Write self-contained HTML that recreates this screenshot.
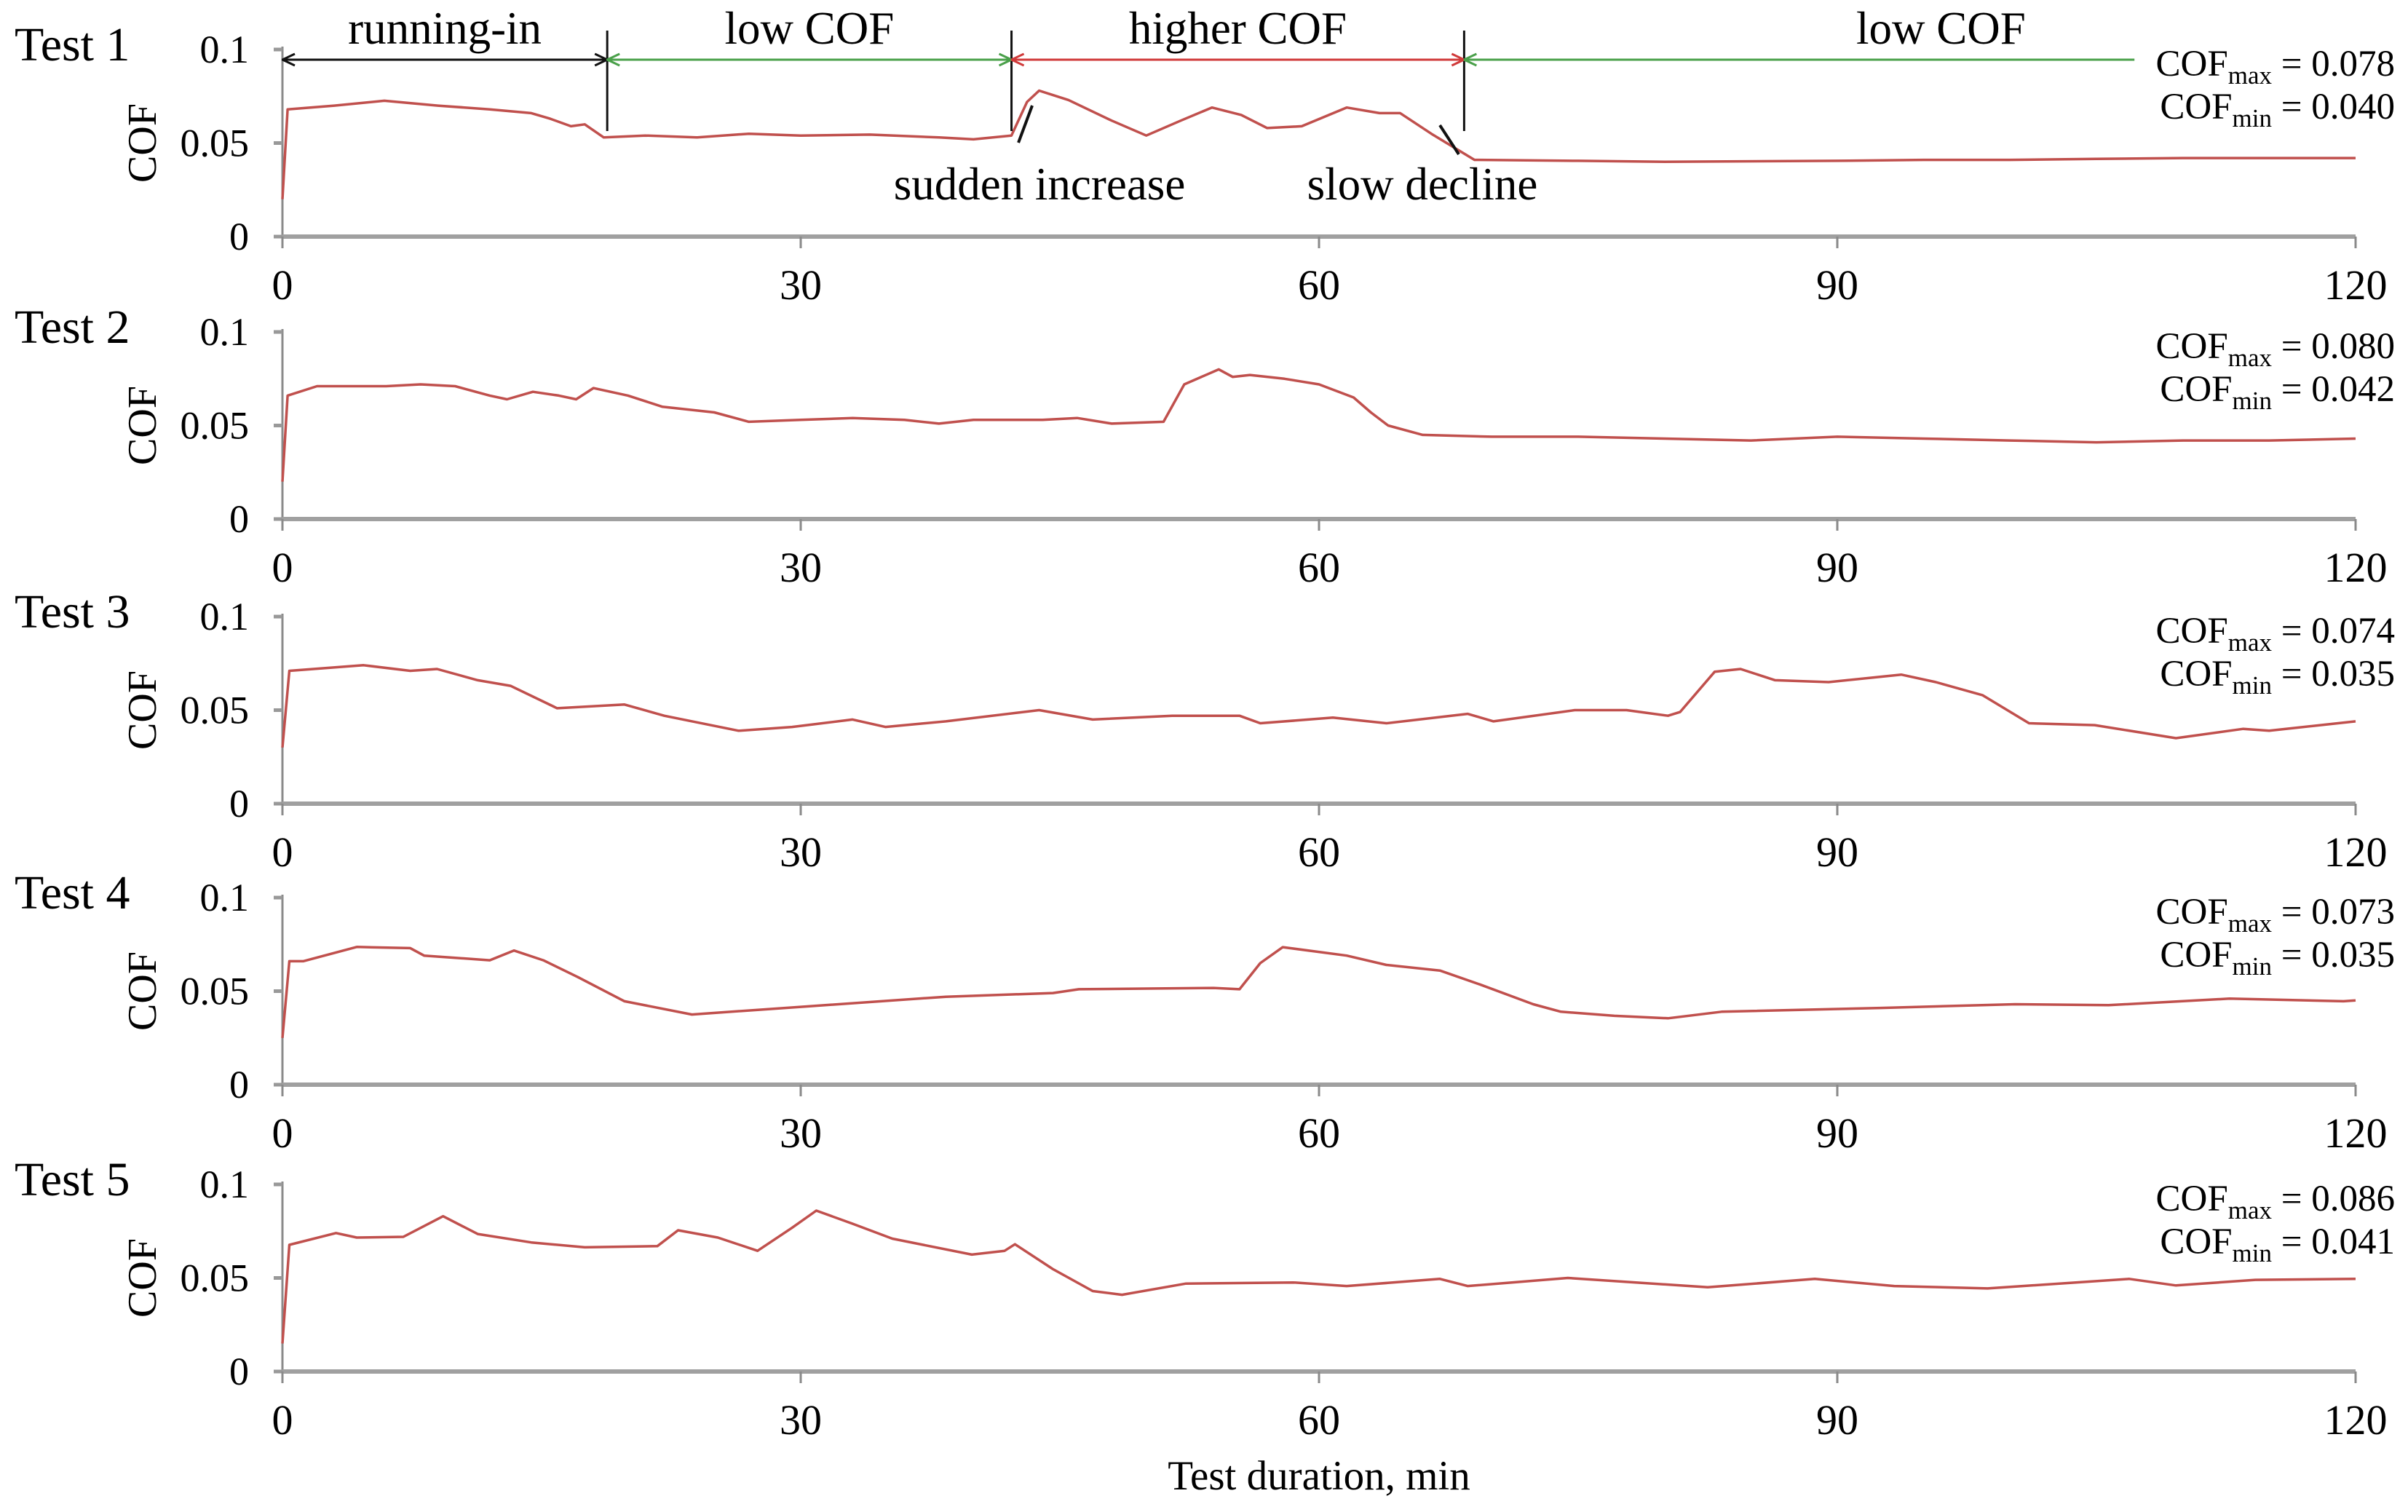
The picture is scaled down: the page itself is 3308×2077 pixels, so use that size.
<!DOCTYPE html>
<html><head><meta charset="utf-8"><style>
html,body{margin:0;padding:0;background:#fff;}
svg{display:block;font-family:"Liberation Serif",serif;}
</style></head><body>
<svg id="chart" width="3308" height="2077" viewBox="0 0 3308 2077" xmlns="http://www.w3.org/2000/svg">
<defs>
<marker id="ah" viewBox="0 0 20 20" refX="19" refY="10" markerWidth="20" markerHeight="20" markerUnits="userSpaceOnUse" orient="auto-start-reverse"><path d="M2,2 L19,10 L2,18" fill="none" stroke="context-stroke" stroke-width="3"/></marker>
</defs>
<g id="panels"></g>
<text x="1812" y="2046" font-size="57" text-anchor="middle">Test duration, min</text>
</svg>
<script>
const testNames = ["Test 1","Test 2","Test 3","Test 4","Test 5"];
const cofMax = ["0.078","0.080","0.074","0.073","0.086"];
const cofMin = ["0.040","0.042","0.035","0.035","0.041"];
const xTicks = [0,30,60,90,120];
const yTicks = [0,0.05,0.1];
const yTickLabels = ["0","0.05","0.1"];

const t1 = [0,0.3,3,5.9,9,12,14.4,15.5,16.7,17.5,18.6,21,24,27,30,34,38,40,42.2,43.1,43.8,45.5,48,50,52,53.8,55.5,57,59,61.6,63.5,64.7,66.5,69,75,80,90,95,100,105,110,115,120];
const v1 = [0.02,0.068,0.070,0.0726,0.070,0.068,0.066,0.063,0.059,0.060,0.053,0.054,0.053,0.055,0.054,0.0545,0.053,0.052,0.054,0.072,0.078,0.073,0.062,0.054,0.062,0.069,0.065,0.058,0.059,0.069,0.066,0.066,0.055,0.041,0.0405,0.040,0.0405,0.041,0.041,0.0415,0.042,0.042,0.042];
const t2 = [0,0.3,2,6,8,10,12,13,14.5,16,17,18,20,22,25,27,30,33,36,38,40,44,46,48,51,52.2,54.2,55,56,58,60,62,63,64,66,70,75,80,85,90,95,100,105,110,115,120];
const v2 = [0.02,0.066,0.071,0.071,0.072,0.071,0.066,0.064,0.068,0.066,0.064,0.070,0.066,0.060,0.057,0.052,0.053,0.054,0.053,0.051,0.053,0.053,0.054,0.051,0.052,0.072,0.080,0.076,0.077,0.075,0.072,0.065,0.057,0.050,0.045,0.044,0.044,0.043,0.042,0.044,0.043,0.042,0.041,0.042,0.042,0.043];
const t3 = [0,0.4,4.7,7.4,8.95,11.3,13.2,15.9,19.8,22.1,26.4,29.5,33,34.9,38.4,43.8,46.9,51.5,55.4,56.6,60.8,63.9,68.6,70.1,74.8,77.8,80.2,80.9,82.9,84.4,86.4,89.5,93.7,95.7,98.4,101.1,104.9,109.6,113.5,115,120];
const v3 = [0.03,0.071,0.074,0.071,0.072,0.066,0.063,0.051,0.053,0.047,0.039,0.041,0.045,0.041,0.044,0.050,0.045,0.047,0.047,0.043,0.046,0.043,0.048,0.044,0.050,0.050,0.047,0.049,0.0705,0.072,0.066,0.065,0.069,0.065,0.058,0.043,0.042,0.035,0.040,0.039,0.044];
const t4 = [0,0.4,1.2,4.3,7.4,8.2,12,13.4,15.1,17.1,19.8,23.7,30.6,38.4,44.6,46.1,53.9,55.4,56.6,57.9,61.6,63.9,67,69.3,72.4,74,77.1,80.2,83.3,92.5,100.3,105.7,112.7,119.3,120];
const v4 = [0.025,0.066,0.066,0.0736,0.073,0.069,0.0665,0.0717,0.0665,0.0575,0.0446,0.0375,0.042,0.047,0.049,0.051,0.0517,0.051,0.065,0.0735,0.069,0.064,0.061,0.0536,0.043,0.039,0.0368,0.0355,0.039,0.041,0.043,0.0425,0.046,0.0446,0.045];
const t5 = [0,0.4,3.1,4.3,7,9.3,11.3,14.4,17.5,21.7,22.9,25.2,27.5,29.5,30.9,33,35.3,39.9,41.8,42.4,44.6,46.9,48.6,52.3,58.5,61.6,67,68.6,74.4,82.5,88.7,93.3,98.7,106.9,109.6,114.2,120];
const v5 = [0.015,0.0677,0.074,0.0716,0.072,0.083,0.0735,0.069,0.0664,0.067,0.0755,0.0716,0.0645,0.0768,0.086,0.079,0.071,0.0625,0.0645,0.068,0.0547,0.043,0.041,0.047,0.0476,0.0457,0.0495,0.0457,0.050,0.045,0.0495,0.0457,0.0444,0.0495,0.046,0.049,0.0495];

const times = [t1,t2,t3,t4,t5];
const series = [v1,v2,v3,v4,v5];

const NS = "http://www.w3.org/2000/svg";
const X0 = 388, X1 = 3236, PH = 257;
const baseY = [325, 713, 1104, 1490, 1884];
function xs(t){ return X0 + (t/120)*(X1-X0); }
function ys(v,i){ return baseY[i] - (v/0.1)*PH; }
function mk(tag, attrs, parent){
  const el = document.createElementNS(NS, tag);
  for (const k in attrs) el.setAttribute(k, attrs[k]);
  parent.appendChild(el);
  return el;
}
const root = document.getElementById("panels");
for (let i=0;i<5;i++){
  const g = mk("g", {}, root);
  
  
  const b = baseY[i];
  const ya = mk("line", {x1:X0,y1:ys(0.1,i)-4,x2:X0,y2:b+8,stroke:"#8a8a8a","stroke-width":3}, g);
  
  
  for (let k=0;k<yTicks.length;k++){
    const y = ys(yTicks[k],i);
    const tk = mk("line",{x1:X0-12,y1:y,x2:X0,y2:y,stroke:"#999","stroke-width":5},g);
    
    
    const tl = mk("text",{x:342,y:y+18,"font-size":54,"text-anchor":"end"},g);
    tl.textContent = yTickLabels[k];
    
    
  }
  const xa = mk("line",{x1:X0,y1:b,x2:X1,y2:b,stroke:"#a0a0a0","stroke-width":6},g);
  
  
  for (let k=0;k<xTicks.length;k++){
    const x = xs(xTicks[k]);
    const tk = mk("line",{x1:x,y1:b,x2:x,y2:b+16,stroke:"#8a8a8a","stroke-width":3},g);
    
    
    const tl = mk("text",{x:x,y:b+86,"font-size":58,"text-anchor":"middle"},g);
    tl.textContent = xTicks[k];
    
    
  }
  const tn = mk("text",{x:20,y:b-242,"font-size":66},g);
  tn.textContent = testNames[i];
  
  
  const cy = ys(0.05,i);
  const yt = mk("text",{x:0,y:0,"font-size":56,"text-anchor":"middle",transform:"translate(214,"+(cy)+") rotate(-90)"},g);
  yt.textContent = "COF";
  
  
  const r1 = mk("text",{x:3290,y:b-221,"font-size":51,"text-anchor":"end"},g);
  r1.innerHTML = 'COF<tspan font-size="35" dy="11">max</tspan><tspan dy="-11"> = '+cofMax[i]+'</tspan>';
  
  
  const r2 = mk("text",{x:3290,y:b-162,"font-size":51,"text-anchor":"end"},g);
  r2.innerHTML = 'COF<tspan font-size="35" dy="11">min</tspan><tspan dy="-11"> = '+cofMin[i]+'</tspan>';
  
  
  const pts = times[i].map((t,j)=>xs(t).toFixed(1)+","+ys(series[i][j],i).toFixed(1)).join(" ");
  const pl = mk("polyline",{points:pts,fill:"none",stroke:"#c0504d","stroke-width":3.5,"stroke-linejoin":"round"},g);
  
  
}

const phaseBounds = [0,18.8,42.2,68.4,107.2];
const phaseNames = ["running-in","low COF","higher COF","low COF"];
const phaseColors = ["#111","#4aa04a","#d03a3a","#4aa04a"];
const ann = mk("g",{},root);


for (let k=1;k<4;k++){
  const x = xs(phaseBounds[k]);
  const vl = mk("line",{x1:x,y1:42,x2:x,y2:180,stroke:"#111","stroke-width":3},ann);
  
  
}
for (let k=0;k<4;k++){
  const xa = xs(phaseBounds[k]), xb = xs(phaseBounds[k+1]);
  const attrs = {x1:xa,y1:82,x2:xb,y2:82,stroke:phaseColors[k],"stroke-width":3,"marker-start":"url(#ah)"};
  if (k<3) attrs["marker-end"] = "url(#ah)";
  const al = mk("line",attrs,ann);
  
  
  const lbl = mk("text",{x:(k<3?(xa+xb)/2:xs(96)),y:60,"font-size":63,"text-anchor":"middle"},ann);
  lbl.textContent = phaseNames[k];
  
  
}
const l1 = mk("line",{x1:xs(42.6),y1:196,x2:xs(43.4),y2:145,stroke:"#111","stroke-width":4},ann);


const s1 = mk("text",{x:1428,y:274,"font-size":63,"text-anchor":"middle"},ann);
s1.textContent = "sudden increase";


const l2 = mk("line",{x1:1978,y1:172,x2:2004,y2:212,stroke:"#111","stroke-width":4},ann);


const s2 = mk("text",{x:1954,y:274,"font-size":63,"text-anchor":"middle"},ann);
s2.textContent = "slow decline";


</script>
</body></html>
